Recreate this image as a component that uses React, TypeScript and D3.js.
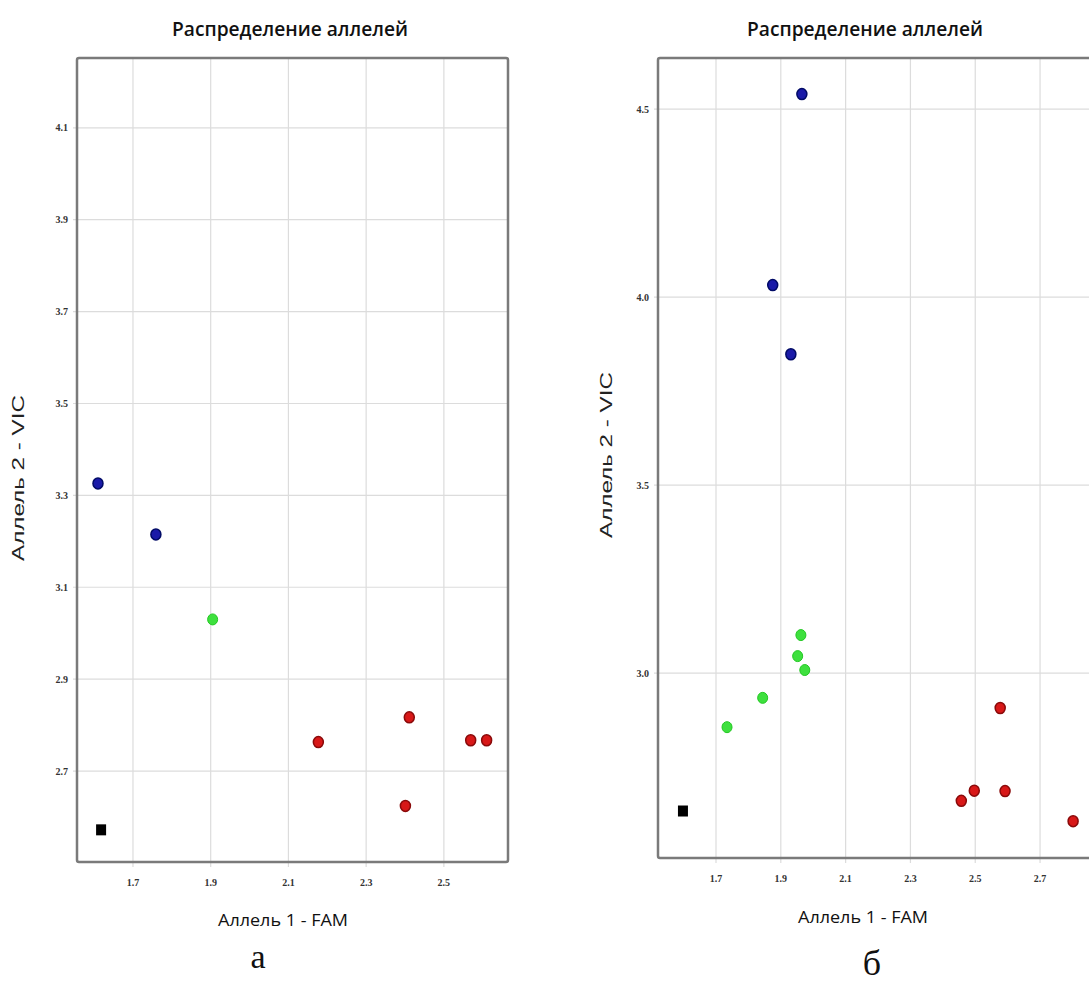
import React from "react";
import * as d3 from "d3";

// ---- Data ----
const titleText = "Распределение аллелей";
const xLabelText = "Аллель 1 - FAM";
const yLabelText = "Аллель 2 - VIC";

// Panel а
const aXTicks = [1.7, 1.9, 2.1, 2.3, 2.5];
const aYTicks = [2.7, 2.9, 3.1, 3.3, 3.5, 3.7, 3.9, 4.1];
const aBlue = [[1.61, 3.326], [1.759, 3.215]];
const aGreen = [[1.905, 3.03]];
const aRed = [[2.177, 2.763], [2.411, 2.817], [2.401, 2.624], [2.569, 2.767], [2.61, 2.767]];
const aBlack = [[1.618, 2.572]];

// Panel б
const bXTicks = [1.7, 1.9, 2.1, 2.3, 2.5, 2.7];
const bYTicks = [3.0, 3.5, 4.0, 4.5];
const bBlue = [[1.965, 4.54], [1.875, 4.032], [1.931, 3.848]];
const bGreen = [[1.962, 3.101], [1.952, 3.045], [1.974, 3.008], [1.844, 2.934], [1.734, 2.856]];
const bRed = [[2.577, 2.907], [2.457, 2.66], [2.497, 2.687], [2.592, 2.686], [2.802, 2.606]];
const bBlack = [[1.598, 2.633]];

type Pt = number[];

interface PanelProps {
  left: number; right: number; top: number; bottom: number;
  xDomain: [number, number]; yDomain: [number, number];
  xTicks: number[]; yTicks: number[];
  blue: Pt[]; green: Pt[]; red: Pt[]; black: Pt[];
  titleX: number; xLabelX: number; xLabelY: number;
  yLabelX: number; yLabelY: number;
  tickLabelY: number;
  letter: string; letterX: number; letterY: number; letterSize: number;
}

function Panel(p: PanelProps) {
  const x = d3.scaleLinear().domain(p.xDomain).range([p.left, p.right]);
  const y = d3.scaleLinear().domain(p.yDomain).range([p.bottom, p.top]);
  const tickFont = "'Liberation Serif', serif";
  const narrow = "'Open Sans', sans-serif";
  return (
    <g>
      <text x={p.titleX} y={36} textAnchor="middle" fontFamily={narrow} fontSize={19} fontWeight={600}
        textLength={236} lengthAdjust="spacingAndGlyphs" fill="#111">{titleText}</text>
      {/* grid */}
      {p.xTicks.map((t) => (
        <line key={"gx" + t} x1={x(t)} x2={x(t)} y1={p.top} y2={p.bottom + 5} stroke="#dcdcdc" strokeWidth={1.2} />
      ))}
      {p.yTicks.map((t) => (
        <line key={"gy" + t} x1={p.left - 4} x2={p.right} y1={y(t)} y2={y(t)} stroke="#dcdcdc" strokeWidth={1.2} />
      ))}
      {/* frame */}
      <rect x={p.left} y={p.top} width={p.right - p.left} height={p.bottom - p.top} fill="none" stroke="#7a7a7a" strokeWidth={2.5} rx={2} />
      {/* tick labels */}
      {p.xTicks.map((t) => (
        <text key={"tx" + t} x={x(t)} y={p.tickLabelY} textAnchor="middle" fontFamily={tickFont} fontSize={10} fontWeight="bold" fill="#333">{t.toFixed(1)}</text>
      ))}
      {p.yTicks.map((t) => (
        <text key={"ty" + t} x={p.left - 9} y={y(t) + 3.5} textAnchor="end" fontFamily={tickFont} fontSize={10} fontWeight="bold" fill="#333">{t.toFixed(1)}</text>
      ))}
      {/* points */}
      {p.blue.map((d, i) => (
        <ellipse key={"b" + i} cx={x(d[0])} cy={y(d[1])} rx={5} ry={5.5} fill="#1a1aa8" stroke="#000a66" strokeWidth={1.5} />
      ))}
      {p.green.map((d, i) => (
        <ellipse key={"g" + i} cx={x(d[0])} cy={y(d[1])} rx={5} ry={5.5} fill="#3ee03e" stroke="#22c822" strokeWidth={1} />
      ))}
      {p.red.map((d, i) => (
        <ellipse key={"r" + i} cx={x(d[0])} cy={y(d[1])} rx={5} ry={5.5} fill="#d81818" stroke="#8a0a0a" strokeWidth={1.5} />
      ))}
      {p.black.map((d, i) => (
        <rect key={"k" + i} x={x(d[0]) - 5} y={y(d[1]) - 5.5} width={10} height={11} fill="#000" />
      ))}
      {/* axis labels */}
      <text x={p.xLabelX} y={p.xLabelY} textAnchor="middle" fontFamily={narrow} fontSize={16}
        textLength={130} lengthAdjust="spacingAndGlyphs" fill="#111">{xLabelText}</text>
      <text transform={`translate(${p.yLabelX},${p.yLabelY}) rotate(-90)`} textAnchor="middle"
        fontFamily="'Liberation Sans', Arial, sans-serif" fontSize={17} textLength={166} lengthAdjust="spacingAndGlyphs" fill="#222">{yLabelText}</text>
      <text x={p.letterX} y={p.letterY} textAnchor="middle" fontFamily="'Liberation Serif', serif" fontSize={p.letterSize} fill="#111">{p.letter}</text>
    </g>
  );
}

export default function App() {
  return (
    <div style={{ position: "absolute", left: 0, top: 0 }}>
      <svg width={1089} height={999} style={{ display: "block", background: "#fff" }}>
        <Panel
          left={77} right={508} top={58} bottom={862}
          xDomain={[1.556, 2.665]} yDomain={[2.502, 4.252]}
          xTicks={aXTicks} yTicks={aYTicks}
          blue={aBlue} green={aGreen} red={aRed} black={aBlack}
          titleX={290} xLabelX={283} xLabelY={926}
          yLabelX={24} yLabelY={478}
          tickLabelY={886}
          letter="а" letterX={258} letterY={968} letterSize={34}
        />
        <Panel
          left={658} right={1100} top={58} bottom={858}
          xDomain={[1.521, 2.885]} yDomain={[2.508, 4.636]}
          xTicks={bXTicks} yTicks={bYTicks}
          blue={bBlue} green={bGreen} red={bRed} black={bBlack}
          titleX={865} xLabelX={863} xLabelY={923}
          yLabelX={612} yLabelY={455}
          tickLabelY={882}
          letter="б" letterX={872} letterY={975} letterSize={36}
        />
      </svg>
    </div>
  );
}
